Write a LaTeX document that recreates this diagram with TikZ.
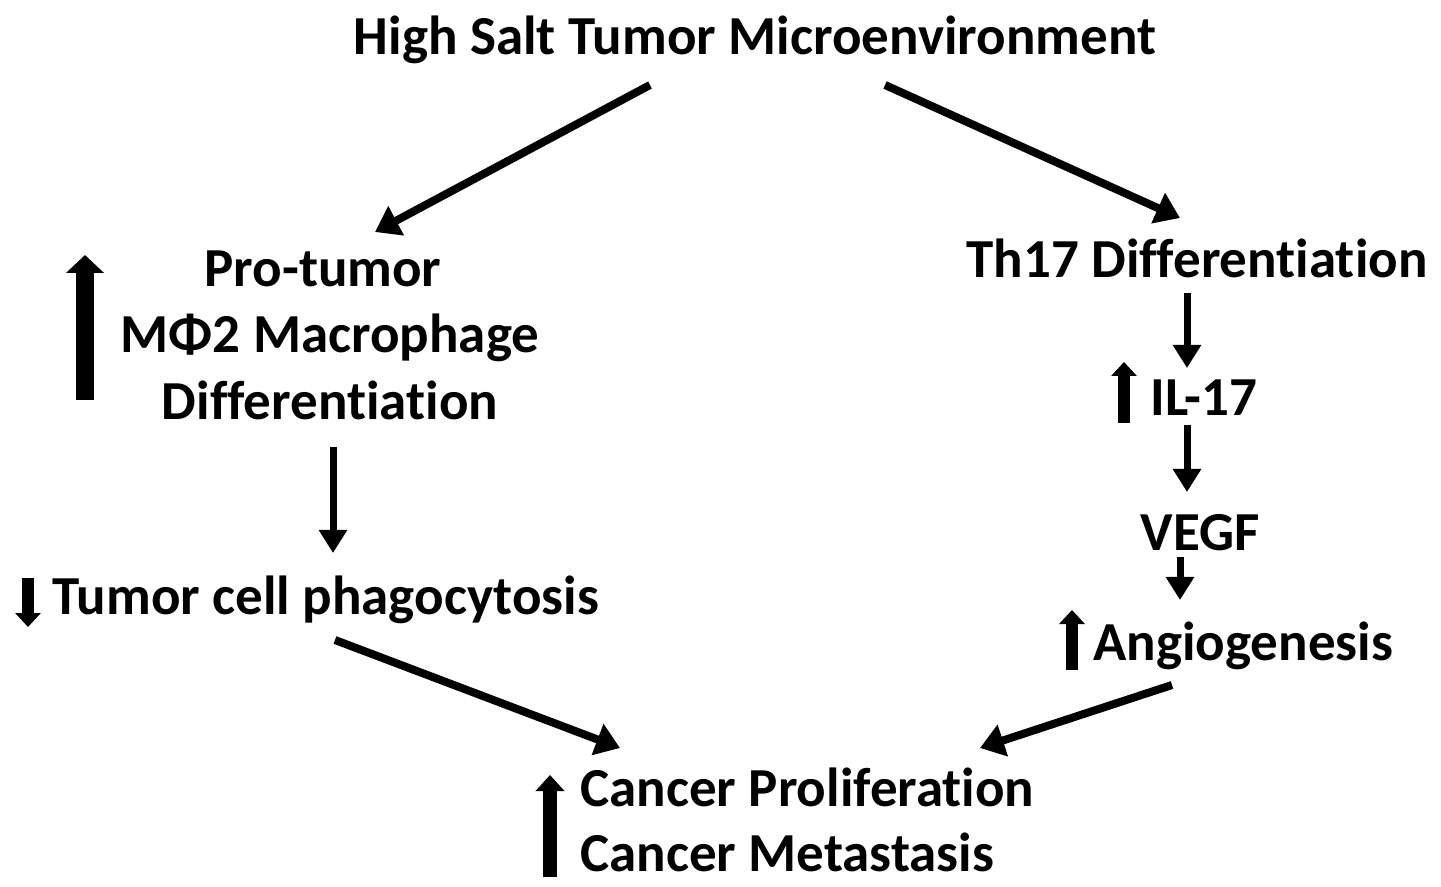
\documentclass[tikz,border=0pt]{standalone}
\usepackage{fontspec}
\setmainfont{Carlito}[Ligatures=NoCommon]
\usetikzlibrary{arrows.meta,calc}
\begin{document}
\begin{tikzpicture}[x=0.5pt,y=-0.5pt,
  lbl/.style={inner sep=0pt,font=\fontsize{27.5}{33}\selectfont\bfseries},
  diag/.style={line width=4pt,-{Triangle[width=16pt,length=12pt]}},
  conn/.style={line width=3.5pt,-{Triangle[width=13.5pt,length=11.5pt]}},
  bigup/.style={line width=9pt,-{Triangle[width=18.5pt,length=9pt]}},
  midup/.style={line width=7pt,-{Triangle[width=14pt,length=8pt]}},
  smallind/.style={line width=6pt,-{Triangle[width=12.5pt,length=7pt]}}]
\useasboundingbox (0,0) rectangle (1441,887);
% nodes
\node[lbl,anchor=base] (title) at (755,55) {High Salt Tumor Microenvironment};
\node[lbl,anchor=base] (pro) at (323,287) {Pro-tumor};
\node[lbl,anchor=base] (mphi) at (330,353) {MΦ2 Macrophage};
\node[lbl,anchor=base] (diff) at (330,420) {Differentiation};
\node[lbl,anchor=base west] (tumor) at (52,614) {Tumor cell phagocytosis};
\node[lbl,anchor=base] (th17) at (1197,278) {Th17 Differentiation};
\node[lbl,anchor=base west] (il17) at (1150,416) {IL-17};
\node[lbl,anchor=base] (vegf) at (1200,551) {VEGF};
\node[lbl,anchor=base west] (angio) at (1093,660) {Angiogenesis};
\node[lbl,anchor=base west] (canc1) at (580,806) {Cancer Proliferation};
\node[lbl,anchor=base west] (canc2) at (580,871) {Cancer Metastasis};
% connectors
\draw[diag] ($(title.base)+(-105,30)$) -- ($(pro.base)+(52,-55)$);
\draw[diag] ($(title.base)+(130,30)$) -- ($(th17.base)+(-17,-60)$);
\draw[conn] ($(diff.base)+(3,27)$) -- ($(tumor.base west)+(281,-61)$);
\draw[diag] ($(tumor.base west)+(283,26)$) -- ($(canc1.base west)+(40,-58)$);
\draw[conn] ($(th17.base)+(-10,15)$) -- ($(il17.base west)+(37,-48)$);
\draw[conn] ($(il17.base west)+(37,9)$) -- ($(vegf.base)+(-13,-59)$);
\draw[conn] ($(vegf.base)+(-20,6)$) -- ($(angio.base west)+(87,-60)$);
\draw[diag] ($(angio.base west)+(79,25)$) -- ($(canc1.base west)+(400,-58)$);
% indicator arrows
\draw[bigup] ($(pro.base)+(-238,113)$) -- ($(pro.base)+(-238,-32)$);
\draw[smallind] ($(tumor.base west)+(-24,-36)$) -- ($(tumor.base west)+(-24,13)$);
\draw[smallind] ($(il17.base west)+(-26,7)$) -- ($(il17.base west)+(-26,-54)$);
\draw[smallind] ($(angio.base west)+(-21,10)$) -- ($(angio.base west)+(-21,-50)$);
\draw[midup] ($(canc1.base west)+(-30,71)$) -- ($(canc1.base west)+(-30,-31)$);
\end{tikzpicture}
\end{document}
